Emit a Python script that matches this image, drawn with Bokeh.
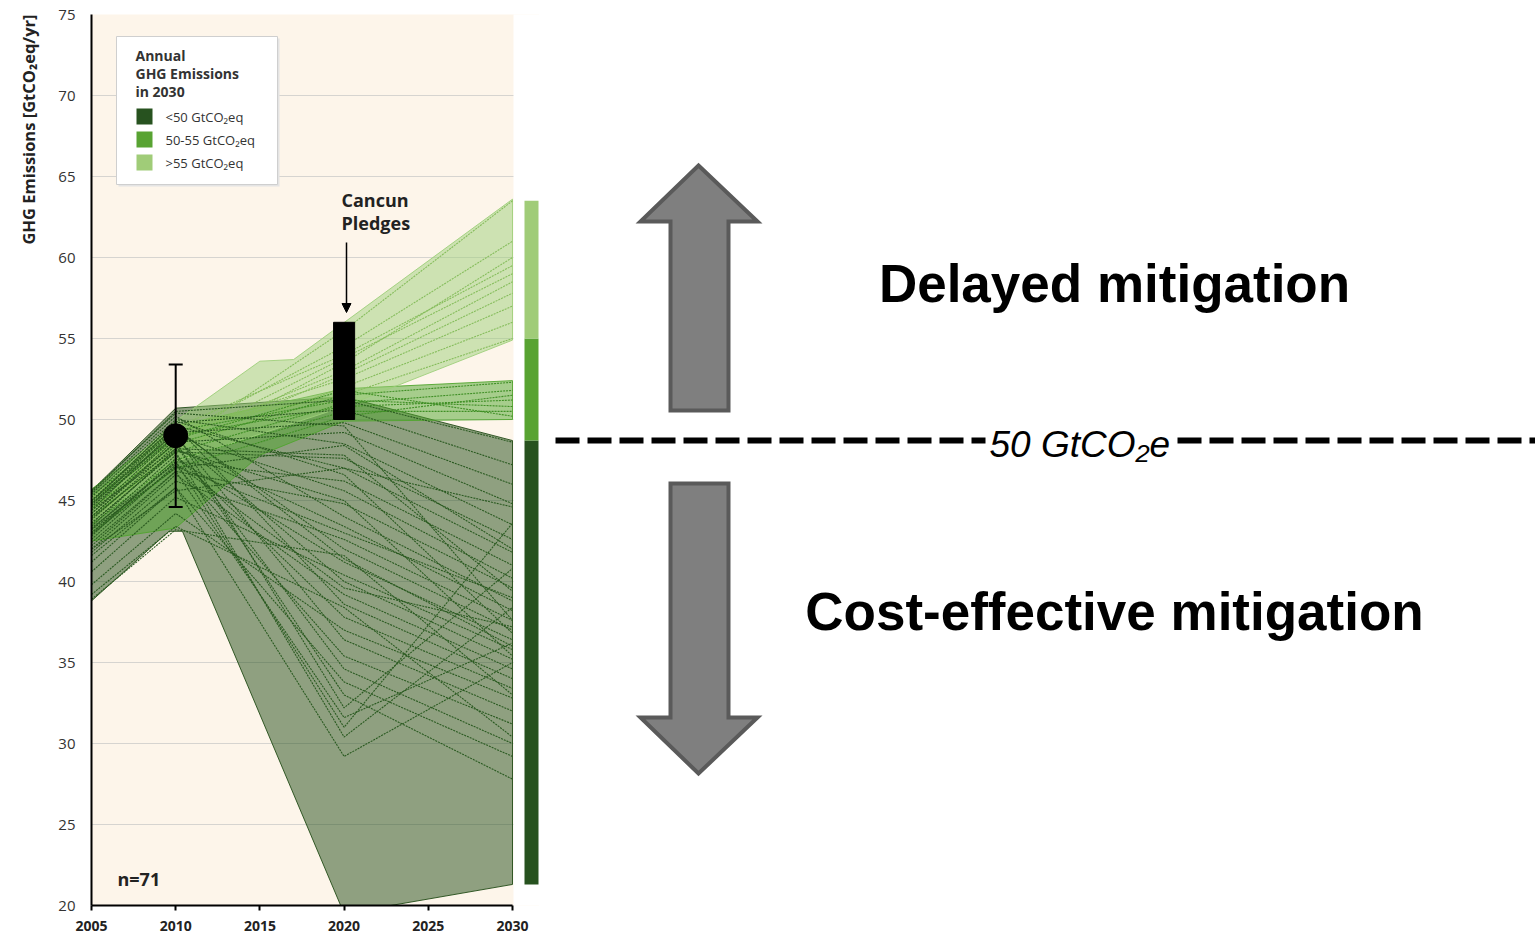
import math
from bokeh.plotting import figure
from bokeh.layouts import row
from bokeh.models import Range1d, Label, Arrow, NormalHead, FixedTicker, Title
from bokeh.embed import file_html
from bokeh.resources import INLINE

# ---------------- data ----------------
years = [2005, 2010, 2020, 2030]
x_ticks = [2005, 2010, 2015, 2020, 2025, 2030]
y_ticks = [20, 25, 30, 35, 40, 45, 50, 55, 60, 65, 70, 75]

# scenario lines (values at 2005, 2010, 2020, 2030), GtCO2eq/yr
dark_scen = [
    [45.5, 50.5, 51.2, 48.6], [45.0, 49.8, 50.6, 47.2], [44.6, 49.2, 49.8, 46.0],
    [44.0, 48.6, 49.2, 44.8], [45.2, 50.0, 48.5, 43.5], [43.6, 48.0, 47.6, 42.6],
    [44.8, 49.6, 47.0, 41.8], [43.0, 47.4, 46.2, 41.0], [44.2, 49.0, 45.6, 40.2],
    [42.4, 46.8, 44.8, 39.6], [45.4, 50.2, 44.0, 38.8], [43.4, 48.2, 43.4, 38.2],
    [41.8, 46.2, 42.6, 37.6], [44.4, 49.4, 42.0, 37.0], [42.8, 47.6, 41.2, 36.4],
    [40.6, 45.2, 40.4, 35.8], [44.0, 48.8, 40.0, 35.2], [42.0, 46.6, 39.2, 34.6],
    [45.0, 49.6, 38.6, 34.0], [43.2, 47.8, 37.8, 33.4], [39.8, 44.2, 37.0, 32.8],
    [44.6, 49.0, 36.4, 32.0], [42.6, 47.2, 35.4, 31.2], [43.8, 48.4, 34.6, 30.0],
    [41.2, 45.8, 33.8, 29.2], [44.2, 48.6, 33.0, 27.8], [42.2, 46.8, 31.6, 36.2],
    [43.6, 48.0, 30.4, 38.4], [41.6, 45.8, 29.2, 35.0], [44.8, 49.2, 32.2, 40.8],
    [43.0, 47.4, 31.0, 43.6], [39.2, 43.4, 38.4, 30.4], [44.4, 48.2, 47.8, 39.4],
    [43.2, 47.0, 48.4, 42.0], [42.0, 45.6, 47.0, 44.6], [45.6, 50.4, 49.6, 37.6],
    [38.9, 43.2, 41.6, 33.0], [44.9, 49.9, 46.6, 36.8], [43.9, 48.1, 45.0, 35.4],
    [42.9, 47.1, 43.0, 39.0], [44.7, 49.5, 41.4, 36.0], [43.3, 47.3, 39.6, 37.2],
]
mid_scen = [
    [44.5, 48.5, 51.5, 52.3], [44.0, 48.0, 51.0, 51.8], [45.0, 49.0, 50.8, 51.2],
    [43.5, 47.5, 50.5, 50.5], [44.8, 48.8, 51.8, 50.2], [43.0, 47.0, 50.2, 51.5],
    [45.3, 49.3, 51.2, 50.8],
]
light_scen = [
    [44.0, 48.5, 55.5, 63.5], [44.5, 49.0, 54.5, 61.0], [45.0, 49.5, 54.0, 59.5],
    [43.8, 48.0, 53.5, 60.0], [44.2, 48.8, 53.0, 58.5], [44.8, 49.2, 52.5, 57.0],
    [43.8, 48.2, 52.0, 56.0], [45.1, 49.6, 51.5, 55.0], [44.4, 48.6, 53.8, 59.0],
    [43.9, 48.3, 52.8, 57.8],
]

# band envelopes
dark_up_x = [2005, 2010, 2020, 2030];          dark_up_y = [45.6, 50.7, 51.4, 48.7]
dark_lo_x = [2005, 2009.6, 2010.4, 2020, 2030]; dark_lo_y = [38.8, 43.1, 43.1, 19.5, 21.3]
mid_up_x = [2005, 2010, 2020, 2030];           mid_up_y = [45.7, 49.6, 51.9, 52.4]
mid_lo_x = [2005, 2010, 2015, 2020, 2030];     mid_lo_y = [42.5, 43.3, 47.8, 49.9, 50.0]
light_up_x = [2005, 2010, 2015, 2017, 2030];   light_up_y = [45.2, 49.9, 53.6, 53.7, 63.6]
light_lo_x = [2005, 2010, 2020, 2030];         light_lo_y = [43.6, 47.4, 50.8, 54.9]

# 2010 estimate with uncertainty
err_x = [2010]; err_mid = [49.0]; err_lo = [44.6]; err_hi = [53.4]
# Cancun pledges 2020
cancun_x = [2020]; cancun_lo = [50.0]; cancun_hi = [56.0]

# colour bar: ranges of 2030 emissions
cb_low = [21.3, 48.7, 55.0]
cb_high = [48.7, 55.0, 63.5]

legend_labels = ["<50 GtCO\u2082eq", "50-55 GtCO\u2082eq", ">55 GtCO\u2082eq"]

# ---------------- styles ----------------
BAND_DARK, BAND_MID, BAND_LIGHT = "#214b16", "#50a52d", "#9dcf7a"
LINE_DARK, LINE_MID, LINE_LIGHT = "#2a5a20", "#3f8f25", "#86bd5c"
KEY_COLORS = ["#27521f", "#58a332", "#a0cc78"]
FONT = "Open Sans"

# page-pixel -> data helpers (layout of the left panel)
PX0, PX1, PY0, PY1 = 91, 512, 14, 905
def dx(px):
    return 2005 + (px - PX0) * 25.0 / (PX1 - PX0)
def dy(py):
    return 75 - (py - PY0) * 55.0 / (PY1 - PY0)
def py_of(v):
    return PY0 + (75 - v) * (PY1 - PY0) / 55.0

LEFT_W, H = 539, 938

# ---------------- left figure ----------------
p = figure(width=LEFT_W, height=H, x_range=Range1d(2005, dx(LEFT_W)), y_range=Range1d(20, 75),
           toolbar_location=None, output_backend="svg",
           min_border_left=PX0, min_border_right=0, min_border_top=PY0,
           min_border_bottom=H - PY1)
p.background_fill_color = "#fdf5ea"
p.border_fill_color = "white"
p.outline_line_color = None
p.xgrid.visible = False
p.ygrid.ticker = FixedTicker(ticks=y_ticks)
p.ygrid.grid_line_color = "#d6d4d0"
p.ygrid.grid_line_width = 1

p.xaxis.ticker = FixedTicker(ticks=x_ticks)
p.xaxis.bounds = (2005, 2030)
p.xaxis.axis_line_width = 2
p.xaxis.axis_line_color = "black"
p.xaxis.major_tick_out = 5
p.xaxis.major_tick_in = 0
p.xaxis.major_tick_line_width = 2
p.xaxis.minor_tick_line_color = None
p.xaxis.major_label_standoff = 10
p.xaxis.major_label_text_font = FONT
p.xaxis.major_label_text_font_style = "bold"
p.xaxis.major_label_text_font_size = "14px"
p.xaxis.major_label_text_color = "#222222"

p.yaxis.ticker = FixedTicker(ticks=y_ticks)
p.yaxis.axis_line_width = 2
p.yaxis.axis_line_color = "black"
p.yaxis.major_tick_out = 0
p.yaxis.major_tick_in = 0
p.yaxis.minor_tick_line_color = None
p.yaxis.major_label_standoff = 16
p.yaxis.major_label_text_font = FONT
p.yaxis.major_label_text_font_size = "15px"
p.yaxis.major_label_text_color = "#333333"

ytitle = Title(text="GHG Emissions [GtCO\u2082eq/yr]", align="right", vertical_align="top",
               text_font=FONT, text_font_style="bold", text_font_size="16.5px",
               text_color="#222222", standoff=28)
p.add_layout(ytitle, "left")

def band(up_x, up_y, lo_x, lo_y, color):
    p.patch(up_x + lo_x[::-1], up_y + lo_y[::-1], fill_color=color, fill_alpha=0.5,
            line_color=color, line_alpha=0.9, line_width=1)

band(dark_up_x, dark_up_y, dark_lo_x, dark_lo_y, BAND_DARK)
band(mid_up_x, mid_up_y, mid_lo_x, mid_lo_y, BAND_MID)
band(light_up_x, light_up_y, light_lo_x, light_lo_y, BAND_LIGHT)

for scen, col in ((light_scen, LINE_LIGHT), (mid_scen, LINE_MID), (dark_scen, LINE_DARK)):
    p.multi_line([years] * len(scen), scen, line_color=col, line_width=1.1,
                 line_dash="2 1", line_alpha=1.0)

# white strip right of 2030 and colour bar
p.quad(left=dx(513), right=dx(560), bottom=15, top=80, fill_color="white", line_color=None)
p.quad(left=dx(524), right=dx(538), bottom=cb_low, top=cb_high,
       fill_color=KEY_COLORS, line_color=None)

# error bar at 2010
cap = dx(98) - dx(91)
p.segment(x0=err_x, y0=err_lo, x1=err_x, y1=err_hi, line_color="black", line_width=2)
p.segment(x0=[x - cap for x in err_x], y0=err_hi, x1=[x + cap for x in err_x], y1=err_hi,
          line_color="black", line_width=2)
p.segment(x0=[x - cap for x in err_x], y0=err_lo, x1=[x + cap for x in err_x], y1=err_lo,
          line_color="black", line_width=2)
p.scatter(x=err_x, y=err_mid, size=24, color="black")

# Cancun pledges
p.vbar(x=cancun_x, width=1.25, bottom=cancun_lo, top=cancun_hi, color="black")
p.add_layout(Arrow(end=NormalHead(size=9, fill_color="black", line_color="black"),
                   x_start=dx(346), y_start=dy(242), x_end=dx(346), y_end=dy(312),
                   line_width=1.5, line_color="black"))
for txt, yy in (("Cancun", 199), ("Pledges", 222)):
    p.add_layout(Label(x=dx(341), y=dy(yy), text=txt, text_font=FONT, text_font_style="bold",
                       text_font_size="18px", text_color="#222222", text_baseline="middle"))

# legend box
p.quad(left=dx(118), right=dx(279), top=dy(38), bottom=dy(186), fill_color="#e4e4e4",
       line_color=None)
p.quad(left=dx(116), right=dx(277), top=dy(36), bottom=dy(184), fill_color="white",
       line_color="#cfcfcf", line_width=1)
for txt, yy in (("Annual", 55), ("GHG Emissions", 73), ("in 2030", 91)):
    p.add_layout(Label(x=dx(135), y=dy(yy), text=txt, text_font=FONT, text_font_style="bold",
                       text_font_size="14px", text_color="#333333", text_baseline="middle"))
rows_py = [116, 139, 162]
p.quad(left=dx(136), right=dx(152), top=[dy(r - 8) for r in rows_py],
       bottom=[dy(r + 8) for r in rows_py], fill_color=KEY_COLORS, line_color=None)
for txt, r in zip(legend_labels, rows_py):
    p.add_layout(Label(x=dx(165), y=dy(r), text=txt, text_font=FONT, text_font_size="13px",
                       text_color="#333333", text_baseline="middle"))

p.add_layout(Label(x=dx(117), y=dy(878), text="n=71", text_font=FONT, text_font_style="bold",
                   text_font_size="18px", text_color="#222222", text_baseline="middle"))

# ---------------- right figure (page-pixel coordinates) ----------------
RW = 1535 - LEFT_W
q = figure(width=RW, height=H, x_range=Range1d(LEFT_W, 1535), y_range=Range1d(PY1, PY0),
           toolbar_location=None, output_backend="svg",
           min_border_left=0, min_border_right=0, min_border_top=PY0,
           min_border_bottom=H - PY1, x_axis_location=None, y_axis_location=None)
q.outline_line_color = None
q.grid.visible = False
q.background_fill_color = "white"

thr_py = py_of(cb_high[0])
q.segment(x0=[555, 1177], y0=[thr_py, thr_py], x1=[985, 1545], y1=[thr_py, thr_py],
          line_color="black", line_width=6, line_dash="24 8")
q.add_layout(Label(x=989, y=444, text="50 GtCO\u2082e", text_font="Liberation Sans",
                   text_font_style="italic", text_font_size="37px", text_color="black",
                   text_baseline="alphabetic"))

up = [(698, 165), (757, 221), (728, 221), (728, 410), (670, 410), (670, 221), (640, 221)]
down = [(670, 483), (728, 483), (728, 717), (757, 717), (698, 773), (640, 717), (670, 717)]
q.patches([[a for a, b in up], [a for a, b in down]], [[b for a, b in up], [b for a, b in down]],
          fill_color="#7f7f7f", line_color="#5a5a5a", line_width=4, line_join="miter")

q.add_layout(Label(x=1114, y=283, text="Delayed mitigation", text_font="Liberation Sans",
                   text_font_style="bold", text_font_size="53px", text_color="black",
                   text_align="center", text_baseline="alphabetic"))
q.add_layout(Label(x=1114, y=611, text="Cost-effective mitigation", text_font="Liberation Sans",
                   text_font_style="bold", text_font_size="53px", text_color="black",
                   text_align="center", text_baseline="alphabetic"))

layout = row(p, q)
open("out.html", "w").write(file_html(layout, INLINE))
